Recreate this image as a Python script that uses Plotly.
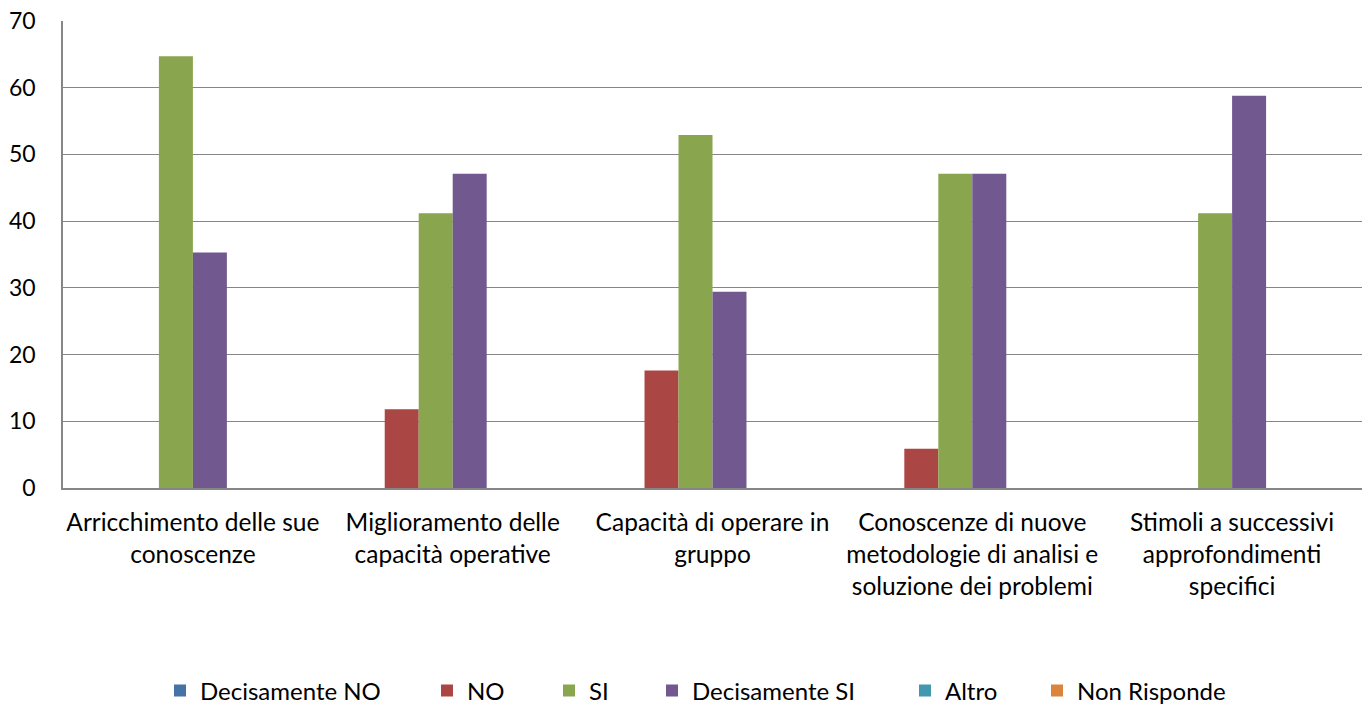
import plotly.graph_objects as go

categories = [
    "Arricchimento delle sue<br>conoscenze",
    "Miglioramento delle<br>capacità operative",
    "Capacità di operare in<br>gruppo",
    "Conoscenze di nuove<br>metodologie di analisi e<br>soluzione dei problemi",
    "Stimoli a successivi<br>approfondimenti<br>specifici",
]
series_names = ["Decisamente NO", "NO", "SI", "Decisamente SI", "Altro", "Non Risponde"]
decisamente_no = [0, 0, 0, 0, 0]
no = [0, 11.8, 17.6, 5.9, 0]
si = [64.7, 41.2, 52.9, 47.1, 41.2]
decisamente_si = [35.3, 47.1, 29.4, 47.1, 58.8]
altro = [0, 0, 0, 0, 0]
non_risponde = [0, 0, 0, 0, 0]
y_ticks = [0, 10, 20, 30, 40, 50, 60, 70]

series_values = [decisamente_no, no, si, decisamente_si, altro, non_risponde]
colors = ["#4572A7", "#AA4643", "#89A54E", "#71588F", "#4198AF", "#DB843D"]

W, H = 1370, 708
ml, mr, mt, mb = 63, 8, 21, 220

marker_centers = [180, 447, 569, 672, 925, 1057]
FONT = "Lato"

fig = go.Figure()
for i, (name, vals, col) in enumerate(zip(series_names, series_values, colors)):
    fig.add_trace(go.Bar(
        name=name, x=categories, y=vals, marker_color=col,
        marker_line_width=0, showlegend=True,
        legend="legend" if i == 0 else f"legend{i+1}",
    ))

layout_legends = {}
for i, cx in enumerate(marker_centers):
    key = "legend" if i == 0 else f"legend{i+1}"
    layout_legends[key] = dict(
        xref="container", yref="container",
        x=(cx - 20) / W, y=1 - 691 / H,
        xanchor="left", yanchor="middle", orientation="h",
        font=dict(family=FONT, size=24, color="#000000"),
        bgcolor="rgba(0,0,0,0)", borderwidth=0,
    )

fig.update_layout(
    width=W, height=H,
    margin=dict(l=ml, r=mr, t=mt, b=mb, autoexpand=False),
    paper_bgcolor="white", plot_bgcolor="white",
    showlegend=True,
    barmode="group", bargap=0.215, bargroupgap=0,
    font=dict(family=FONT, size=24, color="#000000"),
    xaxis=dict(
        showgrid=False, showline=True, linecolor="#868686", linewidth=1.5,
        tickfont=dict(family=FONT, size=24.5, color="#000000"),
        ticks="", fixedrange=True, automargin=False, ticklabelstandoff=12,
    ),
    yaxis=dict(
        range=[0, 70], tickvals=y_ticks, showgrid=True, gridcolor="#868686",
        gridwidth=1, showline=True, linecolor="#868686", linewidth=1.5,
        zeroline=False, ticks="", ticklabelstandoff=21, automargin=False,
        tickfont=dict(family=FONT, size=23, color="#000000"),
    ),
    **layout_legends,
)

fig.write_html(
    "out.html",
    config={"displayModeBar": False},
    post_script="document.body.style.margin='0';document.body.style.overflow='hidden';",
)
